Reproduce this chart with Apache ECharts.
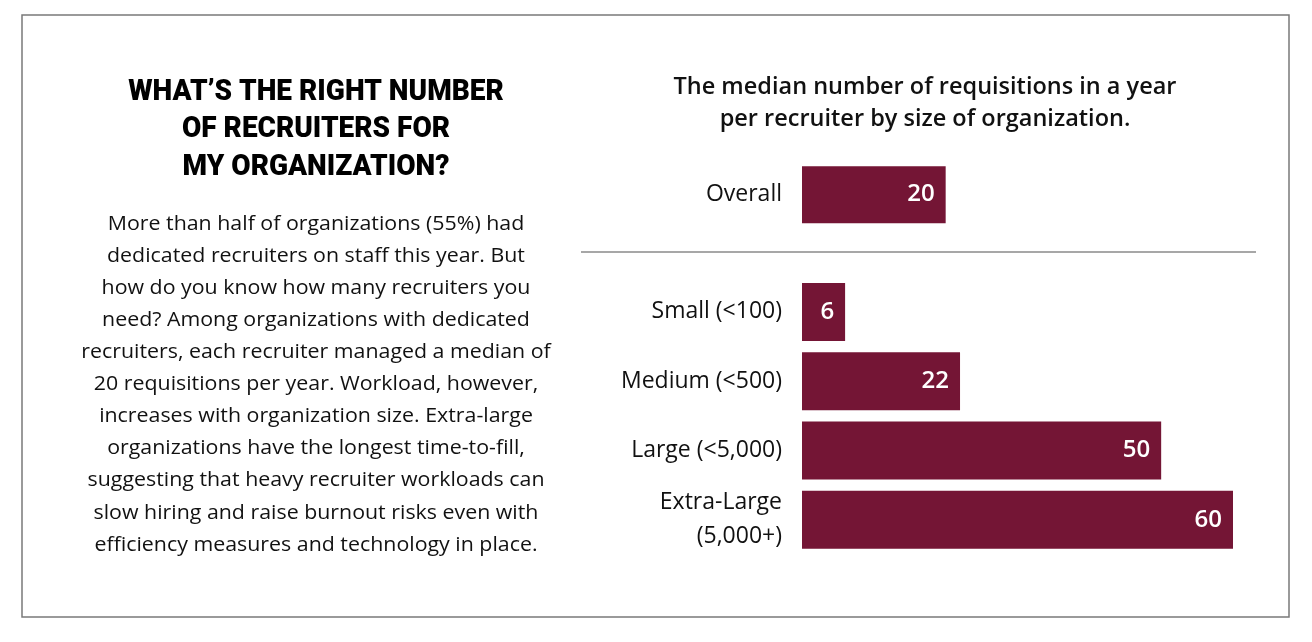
<!DOCTYPE html>
<html><head><meta charset="utf-8">
<script src="https://cdn.jsdelivr.net/npm/echarts@6/dist/echarts.min.js"></script>
<style>html,body{margin:0;padding:0;background:#fff}#c{width:1312px;height:642px}</style>
</head><body><div id="c"></div>
<script>
const overallCategory = ['Overall'];
const overallValues = [20];
const sizeCategories = ['Small (<100)', 'Medium (<500)', 'Large (<5,000)', 'Extra-Large\n(5,000+)'];
const sizeValues = [6, 22, 50, 60];
const chartTitle = 'The median number of requisitions in a year\nper recruiter by size of organization.';
const heading = 'WHAT’S THE RIGHT NUMBER\nOF RECRUITERS FOR\nMY ORGANIZATION?';
const bodyLines = [
  'More than half of organizations (55%) had',
  'dedicated recruiters on staff this year. But',
  'how do you know how many recruiters you',
  'need? Among organizations with dedicated',
  'recruiters, each recruiter managed a median of',
  '20 requisitions per year. Workload, however,',
  'increases with organization size. Extra-large',
  'organizations have the longest time-to-fill,',
  'suggesting that heavy recruiter workloads can',
  'slow hiring and raise burnout risks even with',
  'efficiency measures and technology in place.'
];

const BAR = '#741535';
const FONT = '"Open Sans", sans-serif';
const chart = echarts.init(document.getElementById('c'), null, {renderer: 'canvas'});
const labelCfg = {show: true, position: 'insideRight', distance: 11, color: '#fff', fontSize: 24, fontWeight: 600, fontFamily: FONT};
const catLabel = {fontSize: 23, color: '#111', fontFamily: FONT, margin: 20, lineHeight: 34, align: 'right', padding: [3, 0, 0, 0]};

chart.setOption({
  animation: false,
  grid: [
    {left: 802, width: 431, top: 160, height: 69.3},
    {left: 802, width: 431, top: 277.3, height: 277.2}
  ],
  xAxis: [
    {gridIndex: 0, type: 'value', min: 0, max: 60, show: false},
    {gridIndex: 1, type: 'value', min: 0, max: 60, show: false}
  ],
  yAxis: [
    {gridIndex: 0, type: 'category', data: overallCategory, inverse: true, axisLine: {show: false}, axisTick: {show: false}, axisLabel: catLabel},
    {gridIndex: 1, type: 'category', data: sizeCategories, inverse: true, axisLine: {show: false}, axisTick: {show: false}, axisLabel: catLabel}
  ],
  series: [
    {type: 'bar', xAxisIndex: 0, yAxisIndex: 0, data: overallValues, barWidth: 57, itemStyle: {color: BAR}, label: labelCfg},
    {type: 'bar', xAxisIndex: 1, yAxisIndex: 1, data: sizeValues, barWidth: 58, itemStyle: {color: BAR}, label: labelCfg}
  ],
  graphic: [
    {type: 'rect', shape: {x: 22, y: 15, width: 1267, height: 602}, style: {fill: 'none', stroke: '#7a7a7a', lineWidth: 1.5}, silent: true},
    {type: 'line', shape: {x1: 581, y1: 252, x2: 1256, y2: 252}, style: {stroke: '#8a8a8a', lineWidth: 1.5}, silent: true},
    {type: 'text', x: 925, y: 71, style: {text: chartTitle, align: 'center', verticalAlign: 'top', fontSize: 23.5, fontWeight: 600, lineHeight: 32, fill: '#111', fontFamily: FONT}},
    {type: 'text', x: 316, y: 73.5, scaleX: 0.95, style: {text: heading, align: 'center', verticalAlign: 'top', fontSize: 29.5, fontWeight: 900, lineHeight: 37.5, fill: '#000', fontFamily: 'Roboto, sans-serif'}},
    {type: 'text', x: 316, y: 208, scaleX: 1.09, style: {text: bodyLines.join('\n'), align: 'center', verticalAlign: 'top', fontSize: 19.6, lineHeight: 32.1, fill: '#111', fontFamily: FONT}}
  ]
});
</script></body></html>
